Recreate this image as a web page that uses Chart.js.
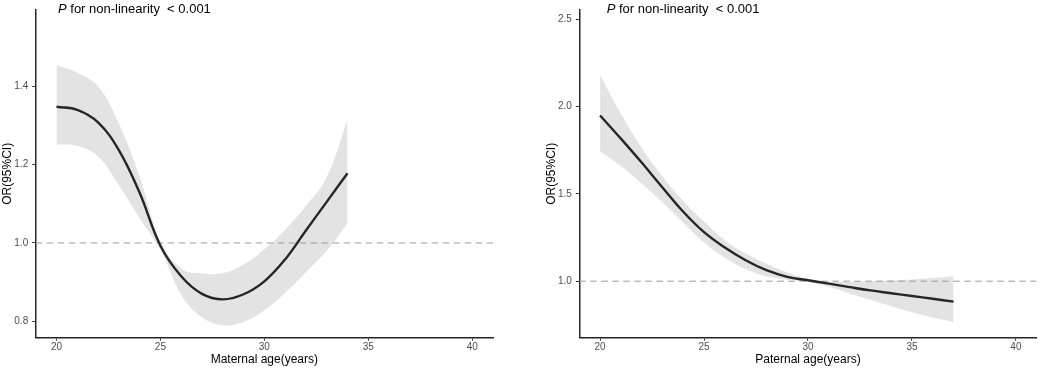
<!DOCTYPE html>
<html>
<head>
<meta charset="utf-8">
<script src="https://cdn.jsdelivr.net/npm/chart.js@4.4.1/dist/chart.umd.min.js"></script>
<style>
  html, body { margin: 0; padding: 0; background: #ffffff; }
  #wrap { position: relative; width: 1040px; height: 369px; overflow: hidden; }
  .panel { position: absolute; top: 0; width: 520px; height: 369px; }
  #p1 { left: 0; }
  #p2 { left: 520px; }
</style>
</head>
<body>
<div id="wrap">
  <div class="panel" id="p1"><canvas id="c1" width="520" height="369"></canvas></div>
  <div class="panel" id="p2"><canvas id="c2" width="520" height="369"></canvas></div>
</div>
<script>
// ---- Data ----
const ageTicks = [20, 25, 30, 35, 40];
const refX = [19, 41];
const refOR = [1.0, 1.0];

const maternalAge   = [20, 21, 22, 23, 24, 25, 26, 27, 28, 29, 30, 31, 32, 33, 34];
const maternalOR    = [1.348, 1.340, 1.308, 1.237, 1.128, 0.993, 0.915, 0.870, 0.856, 0.869, 0.902, 0.958, 1.032, 1.105, 1.178];
const maternalUpper = [1.454, 1.435, 1.400, 1.305, 1.170, 1.005, 0.935, 0.922, 0.923, 0.945, 0.984, 1.034, 1.095, 1.168, 1.314];
const maternalLower = [1.252, 1.248, 1.221, 1.148, 1.063, 0.983, 0.868, 0.810, 0.790, 0.798, 0.828, 0.872, 0.925, 0.980, 1.050];
const maternalYTicks = [0.8, 1.0, 1.2, 1.4];

const paternalAge   = [20, 21, 22, 23, 24, 25, 26, 27, 28, 29, 30, 31, 32, 33, 34, 35, 36, 37];
const paternalOR    = [1.950, 1.817, 1.680, 1.537, 1.398, 1.281, 1.193, 1.120, 1.063, 1.025, 1.005, 0.986, 0.966, 0.947, 0.931, 0.915, 0.899, 0.883];
const paternalUpper = [2.180, 1.960, 1.765, 1.600, 1.460, 1.342, 1.235, 1.158, 1.100, 1.050, 1.014, 0.998, 0.996, 1.000, 1.005, 1.010, 1.018, 1.028];
const paternalLower = [1.745, 1.660, 1.560, 1.452, 1.335, 1.222, 1.135, 1.070, 1.028, 1.008, 0.995, 0.968, 0.930, 0.893, 0.856, 0.822, 0.792, 0.766];
const paternalYTicks = [1.0, 1.5, 2.0, 2.5];

const pTextMain = ' for non-linearity  < 0.001';
const pTextItalic = 'P';

// ---- helpers ----
const FONT = "'Liberation Sans', Arial, Helvetica, sans-serif";
function pts(xs, ys) { return xs.map((x, i) => ({ x: x, y: ys[i] })); }

const annotPlugin = {
  id: 'pAnnot',
  afterDraw(chart, args, opts) {
    const ctx = chart.ctx;
    ctx.save();
    ctx.fillStyle = '#000000';
    ctx.textBaseline = 'alphabetic';
    ctx.textAlign = 'left';
    let x = chart.chartArea.left + opts.dx;
    const y = opts.baseline;
    ctx.font = 'italic 13px ' + FONT;
    ctx.fillText(pTextItalic, x, y);
    x += ctx.measureText(pTextItalic).width;
    ctx.font = '13px ' + FONT;
    ctx.fillText(pTextMain, x, y);
    ctx.restore();
  }
};

function makeChart(canvasId, xs, ors, ups, los, yTicks, yMin, yMax, xTitle, padLeft, yWidth, padRight, annotDx) {
  return new Chart(document.getElementById(canvasId), {
    type: 'line',
    data: {
      datasets: [
        { data: pts(xs, ors), borderColor: '#262626', borderWidth: 2.4, pointRadius: 0,
          fill: false, tension: 0.4 },
        { data: pts(refX, refOR), borderColor: '#9c9c9c', borderWidth: 1, borderDash: [6.5, 4.5],
          pointRadius: 0, fill: false, tension: 0 },
        { data: pts(xs, ups), borderColor: 'rgba(0,0,0,0)', borderWidth: 1, pointRadius: 0,
          backgroundColor: '#e3e3e3', fill: '+1', tension: 0.4 },
        { data: pts(xs, los), borderColor: 'rgba(0,0,0,0)', borderWidth: 1, pointRadius: 0,
          backgroundColor: '#e3e3e3', fill: false, tension: 0.4 }
      ]
    },
    options: {
      responsive: false,
      animation: false,
      devicePixelRatio: 1,
      layout: { padding: { left: padLeft, right: padRight, top: 3, bottom: 0 } },
      plugins: {
        legend: { display: false },
        tooltip: { enabled: false },
        title: { display: false },
        pAnnot: { dx: annotDx, baseline: 12.7 }
      },
      scales: {
        x: {
          type: 'linear',
          min: 19, max: 41,
          afterBuildTicks: (s) => { s.ticks = ageTicks.map(v => ({ value: v })); },
          afterFit: (s) => { s.height = 31.3; },
          border: { display: true, color: '#262626', width: 1.5 },
          grid: { display: true, drawOnChartArea: false, drawTicks: true, tickLength: 3, color: '#333333', lineWidth: 1 },
          ticks: { color: '#4d4d4d', font: { family: FONT, size: 10 }, padding: 0.8, maxRotation: 0,
                   callback: (v) => String(v) },
          title: { display: true, text: xTitle, color: '#000000', font: { family: FONT, size: 12 },
                   padding: { top: 0, bottom: 1.8 } }
        },
        y: {
          type: 'linear',
          min: yMin, max: yMax,
          afterBuildTicks: (s) => { s.ticks = yTicks.map(v => ({ value: v })); },
          afterFit: (s) => { s.width = yWidth; },
          border: { display: true, color: '#262626', width: 1.5 },
          grid: { display: true, drawOnChartArea: false, drawTicks: true, tickLength: 3.5, color: '#333333', lineWidth: 1 },
          ticks: { color: '#4d4d4d', font: { family: FONT, size: 10 }, padding: 4,
                   callback: (v) => Number(v).toFixed(1) },
          title: { display: true, text: 'OR(95%CI)', color: '#000000', font: { family: FONT, size: 12 },
                   padding: { top: 0, bottom: 0 } }
        }
      }
    },
    plugins: [annotPlugin]
  });
}

makeChart('c1', maternalAge, maternalOR, maternalUpper, maternalLower, maternalYTicks,
          0.758, 1.595, 'Maternal age(years)', 0.8, 34.9, 27, 22.3);
makeChart('c2', paternalAge, paternalOR, paternalUpper, paternalLower, paternalYTicks,
          0.676, 2.5545, 'Paternal age(years)', 24.5, 34.8, 3.3, 27.4);
</script>
</body>
</html>
